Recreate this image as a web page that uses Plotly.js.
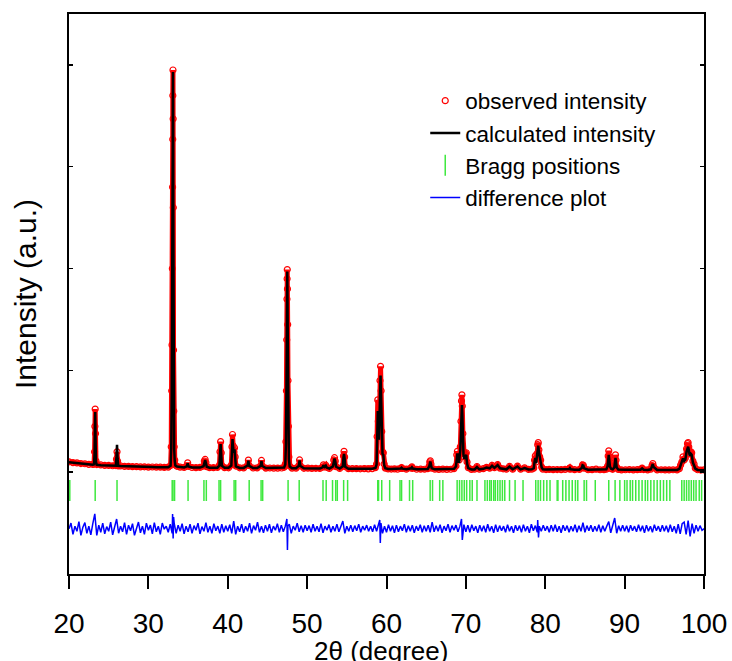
<!DOCTYPE html>
<html>
<head>
<meta charset="utf-8">
<script src="https://cdn.plot.ly/plotly-3.0.1.min.js"></script>
<style>html,body{margin:0;padding:0;background:#fff;}#chart{width:732px;height:661px;}</style>
</head>
<body>
<div id="chart"></div>
<script>
// ---- 2θ positions of the observed / calculated profile (degrees) ----
const twoTheta = [
  20, 20.5, 21, 21.5, 22, 22.5, 23.0,
  23.15, 23.22, 23.26, 23.3, 23.34, 23.4, 23.5,
  24, 24.5, 25, 25.5,
  25.9, 25.98, 26.05, 26.12, 26.2,
  26.5, 27, 27.5, 28, 28.5, 29, 29.5, 30, 30.5, 31, 31.5, 32, 32.5,
  32.8, 32.88, 32.94, 32.98, 33.02, 33.05, 33.07, 33.08, 33.1, 33.12, 33.14, 33.17, 33.2, 33.25, 33.32, 33.4,
  33.6, 34.0, 34.5,
  34.85, 34.95, 35.05,
  35.5, 36.0, 36.5,
  36.95, 37.05, 37.15, 37.25, 37.35,
  37.7, 38.2, 38.7,
  38.95, 39.02, 39.1, 39.18, 39.26,
  39.6, 40.1,
  40.45, 40.53, 40.6, 40.68, 40.76, 40.85, 40.93, 41.02,
  41.5, 42.0,
  42.5, 42.6, 42.7,
  43.2, 43.7,
  44.15, 44.25, 44.35,
  44.8, 45.3, 45.8, 46.3, 46.8, 47.1,
  47.25, 47.33, 47.39, 47.43, 47.46, 47.48, 47.5, 47.52, 47.55, 47.59, 47.64, 47.7, 47.8,
  48.1, 48.6,
  48.95, 49.05, 49.15,
  49.6, 50.1, 50.6, 51.1, 51.6,
  51.95, 52.05, 52.2, 52.35, 52.45,
  52.8,
  53.25, 53.35, 53.45, 53.55, 53.65,
  54.1,
  54.5, 54.58, 54.65, 54.72, 54.8,
  55.2, 55.7, 56.2, 56.7, 57.2, 57.7, 58.2, 58.6,
  58.75, 58.82, 58.9, 58.97, 59.05, 59.12, 59.18, 59.25, 59.32, 59.4, 59.5, 59.6, 59.7, 59.85,
  60.2, 60.6, 61.0, 61.4,
  61.8, 61.9, 62.0,
  62.5,
  63.1, 63.2, 63.3,
  63.8, 64.3, 64.8, 65.2,
  65.38, 65.45, 65.52, 65.6, 65.7,
  66.1, 66.6, 67.1, 67.6, 68.1, 68.5,
  68.75, 68.85, 68.93, 69.02, 69.15, 69.3, 69.38, 69.45, 69.5, 69.55, 69.62, 69.7, 69.8, 69.95, 70.05, 70.15, 70.3,
  70.7, 71.1,
  71.4, 71.7, 72.2, 72.6, 73.0, 73.3, 73.6, 74.0, 74.3, 74.7, 75.1, 75.5, 75.9, 76.5, 76.9, 77.4, 77.9, 78.3,
  78.55, 78.65, 78.75, 78.85, 78.95, 79.05, 79.12, 79.2, 79.3, 79.42, 79.55, 79.7,
  80.1, 80.5, 81.0, 81.5, 82.0, 82.5,
  83.0, 83.1, 83.2,
  83.7, 84.3,
  84.6, 84.7, 84.8, 84.9,
  85.4, 85.9, 86.4, 86.9, 87.4, 87.7,
  87.85, 87.93, 88.0, 88.07, 88.15, 88.3, 88.5,
  88.7, 88.78, 88.85, 88.92, 89.0, 89.2,
  89.6, 90.1, 90.6, 91.1, 91.6, 92.0,
  92.2, 92.4,
  92.9, 93.3,
  93.45, 93.55, 93.65,
  94.1, 94.6, 95.1, 95.6, 96.1, 96.6, 96.9,
  97.05, 97.2, 97.35, 97.5, 97.65, 97.8, 97.92, 98.0, 98.08, 98.2, 98.35, 98.45, 98.6, 98.75, 98.9,
  99.2, 99.6, 100
];

// ---- observed intensity (a.u.) ----
const observedIntensity = [
  1102, 1094, 1091, 1085, 1083, 1077, 1076,
  1080, 1200, 1450, 1620, 1380, 1110, 1075,
  1071, 1067, 1066, 1063,
  1065, 1130, 1200, 1110, 1062,
  1061, 1057, 1057, 1054, 1055, 1052, 1053, 1050, 1051, 1049, 1049, 1047, 1050,
  1065, 1250, 1800, 2250, 3000, 3800, 4270, 4700, 4950, 4470, 3600, 2200, 1600, 1250, 1120, 1070,
  1058, 1050, 1047,
  1060, 1092, 1058,
  1046, 1045, 1047,
  1060, 1110, 1125, 1095, 1055,
  1045, 1044, 1046,
  1070, 1200, 1300, 1190, 1065,
  1045, 1043,
  1070, 1250, 1370, 1260, 1200, 1240, 1150, 1060,
  1043, 1042,
  1070, 1118, 1065,
  1041, 1042,
  1065, 1115, 1062,
  1040, 1041, 1039, 1040, 1041, 1048,
  1080, 1300, 1800, 2300, 2700, 2900, 2990, 2800, 2450, 1900, 1450, 1150, 1060,
  1040, 1039,
  1065, 1120, 1062,
  1038, 1039, 1037, 1038, 1036,
  1050, 1072, 1055, 1068, 1048,
  1036,
  1060, 1120, 1142, 1110, 1055,
  1036,
  1060, 1160, 1205, 1150, 1055,
  1035, 1034, 1035, 1033, 1034, 1032, 1034, 1045,
  1080, 1350, 1710, 1500, 1350, 1600, 1900, 2040, 1800, 1400, 1200, 1190, 1080, 1040,
  1032, 1031, 1032, 1030,
  1038, 1046, 1036,
  1030,
  1040, 1052, 1038,
  1029, 1030, 1029, 1034,
  1060, 1100, 1112, 1080, 1040,
  1029, 1028, 1030, 1028, 1029, 1035,
  1060, 1170, 1205, 1130, 1120, 1250, 1500, 1700, 1760, 1650, 1380, 1200, 1150, 1180, 1190, 1100, 1045,
  1028, 1030,
  1055, 1030, 1035, 1048, 1040, 1068, 1045, 1075, 1040, 1033, 1030, 1058, 1030, 1060, 1030, 1042, 1027, 1030,
  1040, 1120, 1160, 1100, 1180, 1270, 1290, 1220, 1150, 1120, 1050, 1030,
  1026, 1027, 1025, 1026, 1025, 1027,
  1032, 1043, 1030,
  1025, 1027,
  1045, 1072, 1068, 1040,
  1024, 1025, 1030, 1024, 1025, 1030,
  1060, 1160, 1210, 1150, 1060, 1035, 1030,
  1050, 1130, 1170, 1120, 1050, 1028,
  1023, 1024, 1026, 1023, 1025, 1027,
  1040, 1026,
  1023, 1030,
  1065, 1085, 1055,
  1022, 1024, 1023, 1022, 1024, 1023, 1035,
  1070, 1100, 1150, 1120, 1140, 1230, 1280, 1290, 1250, 1180, 1200, 1190, 1110, 1080, 1040,
  1024, 1021, 1022
];

// ---- calculated intensity (a.u.) ----
const calculatedIntensity = [
  1098, 1093, 1088, 1084, 1080, 1077, 1074,
  1078, 1180, 1420, 1590, 1360, 1100, 1073,
  1069, 1067, 1065, 1063,
  1063, 1150, 1270, 1130, 1062,
  1060, 1058, 1056, 1055, 1054, 1053, 1052, 1051, 1050, 1049, 1048, 1048, 1049,
  1062, 1230, 1750, 2200, 2950, 3750, 4250, 4650, 4930, 4450, 3550, 2150, 1550, 1230, 1110, 1066,
  1055, 1049, 1046,
  1058, 1088, 1056,
  1046, 1045, 1045,
  1058, 1105, 1120, 1090, 1053,
  1044, 1044, 1044,
  1066, 1180, 1275, 1170, 1062,
  1044, 1043,
  1065, 1230, 1325, 1240, 1190, 1225, 1140, 1058,
  1042, 1042,
  1066, 1112, 1062,
  1041, 1041,
  1062, 1110, 1060,
  1040, 1040, 1039, 1039, 1040, 1046,
  1075, 1280, 1760, 2260, 2680, 2880, 2970, 2780, 2420, 1870, 1420, 1130, 1056,
  1039, 1038,
  1062, 1115, 1060,
  1038, 1038, 1037, 1037, 1036,
  1048, 1068, 1052, 1064, 1046,
  1035,
  1057, 1115, 1135, 1105, 1053,
  1035,
  1057, 1145, 1180, 1135, 1053,
  1034, 1034, 1034, 1033, 1033, 1032, 1033, 1042,
  1075, 1300, 1600, 1450, 1320, 1550, 1820, 1950, 1740, 1370, 1180, 1170, 1070, 1038,
  1031, 1031, 1031, 1030,
  1036, 1043, 1035,
  1030,
  1038, 1048, 1036,
  1029, 1029, 1029, 1032,
  1056, 1095, 1105, 1075, 1038,
  1028, 1028, 1028, 1028, 1028, 1033,
  1055, 1150, 1185, 1110, 1105, 1220, 1430, 1620, 1660, 1580, 1330, 1170, 1130, 1160, 1170, 1085, 1040,
  1027, 1027,
  1050, 1028, 1033, 1045, 1038, 1063, 1042, 1070, 1038, 1031, 1028, 1054, 1028, 1056, 1028, 1040, 1026, 1028,
  1038, 1100, 1140, 1090, 1160, 1240, 1260, 1200, 1130, 1100, 1046, 1028,
  1026, 1026, 1025, 1025, 1025, 1025,
  1031, 1040, 1029,
  1024, 1025,
  1042, 1068, 1064, 1038,
  1024, 1024, 1028, 1024, 1024, 1028,
  1056, 1130, 1170, 1120, 1055, 1033, 1028,
  1047, 1110, 1140, 1100, 1046, 1026,
  1023, 1023, 1024, 1023, 1023, 1025,
  1037, 1024,
  1022, 1028,
  1060, 1080, 1050,
  1022, 1022, 1022, 1022, 1022, 1022, 1032,
  1065, 1090, 1135, 1110, 1125, 1200, 1245, 1250, 1220, 1160, 1180, 1170, 1095, 1068, 1036,
  1022, 1021, 1020
];

// ---- Bragg reflection positions (degrees) and their row level ----
const braggPositions = [
  20.1, 23.3, 26.05, 33.0, 33.1, 33.3, 35.0, 37.0, 37.3, 38.9, 39.1, 40.8, 41.0, 42.7, 44.2, 44.4,
  47.6, 49.0, 52.0, 52.4, 53.2, 53.6, 53.8, 54.6, 55.1, 58.9, 59.0, 59.4, 60.4, 61.7, 61.9, 62.9, 63.3,
  65.5, 65.8, 66.7, 67.1, 68.9, 69.2, 69.5, 69.8, 70.1, 70.5, 70.8, 71.4,
  72.4, 72.7, 73.0, 73.2, 73.5, 73.7, 74.0, 74.3, 74.6, 74.9, 75.5, 76.2, 77.2,
  78.8, 79.1, 79.4, 79.8, 80.2, 80.6, 81.5, 81.6, 82.2, 82.6, 83.0, 83.4, 83.8, 84.1, 84.9, 85.2, 86.3,
  88.0, 88.8, 89.4, 90.0, 90.3, 90.7, 91.0, 91.4, 91.8, 92.2, 92.6, 92.9, 93.3, 93.7, 94.1, 94.5, 94.9,
  95.3, 95.7, 97.2, 97.5, 97.8, 98.1, 98.4, 98.7, 99.0, 99.4, 99.7
];
const braggLevel = 820;

// ---- difference plot: regular 0.25° scan grid + extra points at strong reflections ----
const diffStart = 20, diffStep = 0.25;
const differenceValues = [
  445, 500, 390, 470, 420, 515, 380, 460, 505, 400, 470, 385, 495, 590, 380, 480, 410, 500, 395, 465,
  420, 510, 385, 475, 540, 400, 470, 415, 505, 390, 480, 425, 495, 380, 460, 510, 405, 470, 390, 500,
  430, 480, 395, 505, 415, 470, 390, 500, 440, 470, 410, 490, 400, 500, 400, 480, 420, 495, 395, 470,
  415, 490, 400, 475, 430, 500, 395, 465, 420, 505, 410, 470, 400, 495, 425, 470, 400, 490, 410, 475,
  420, 485, 400, 520, 390, 470, 415, 490, 405, 470, 420, 500, 400, 475, 430, 510, 410, 470, 405, 480,
  420, 490, 405, 470, 430, 495, 410, 480, 415, 470, 410, 490, 400, 470, 430, 500, 415, 475, 410, 480,
  425, 475, 410, 490, 420, 470, 415, 495, 405, 470, 430, 485, 410, 470, 420, 490, 415, 470, 520, 400,
  470, 420, 480, 415, 475, 425, 490, 410, 470, 430, 480, 420, 470, 415, 485, 420, 475, 430, 400, 470,
  410, 485, 420, 475, 405, 480, 415, 470, 425, 490, 410, 475, 420, 480, 405, 470, 425, 485, 410, 475,
  420, 480, 410, 510, 415, 475, 420, 485, 405, 470, 425, 490, 410, 475, 430, 480, 415, 470, 410, 485,
  415, 480, 410, 485, 425, 470, 405, 480, 420, 475, 410, 490, 420, 470, 405, 485, 415, 475, 425, 470,
  410, 485, 420, 470, 405, 480, 425, 475, 410, 485, 420, 470, 405, 490, 425, 475, 410, 470, 420, 480,
  425, 470, 410, 480, 420, 485, 415, 470, 405, 480, 425, 475, 410, 470, 420, 485, 410, 475, 420, 505,
  410, 475, 425, 480, 415, 470, 420, 485, 410, 475, 420, 470, 515, 405, 480, 550, 400, 475, 420, 480,
  420, 475, 410, 480, 425, 470, 415, 485, 420, 475, 405, 480, 420, 470, 410, 485, 425, 470, 415, 480,
  420, 475, 410, 485, 415, 470, 400, 490, 395, 495, 510, 390, 525, 370, 495, 400, 480, 420, 475, 430,
  445
];
const diffSpikeTheta = [33.05, 33.12, 33.18, 47.45, 47.52, 47.58, 59.15, 59.22, 59.3, 69.45, 69.55, 79.05, 79.15];
const diffSpikeValues = [590, 350, 560, 540, 236, 470, 530, 305, 500, 540, 334, 530, 360];

// ---- axis ticks and titles ----
const xTickVals = [20, 30, 40, 50, 60, 70, 80, 90, 100];
const yTickVals = [0, 1000, 2000, 3000, 4000, 5000];
const xTitle = '2θ (degree)';
const yTitle = 'Intensity (a.u.)';

// assemble the difference curve (sorted by 2θ)
const diffPts = differenceValues.map((v, i) => [diffStart + i * diffStep, v])
  .concat(diffSpikeTheta.map((t, i) => [t, diffSpikeValues[i]]))
  .sort((a, b) => a[0] - b[0]);
const diffX = diffPts.map(p => p[0]);
const diffY = diffPts.map(p => p[1]);

const FONT = 'Liberation Sans, Arial, sans-serif';

const traces = [
  { // red band behind the open circles (not in legend)
    x: twoTheta, y: observedIntensity, type: 'scatter', mode: 'lines',
    line: { color: '#ff0000', width: 5 }, showlegend: false, hoverinfo: 'skip'
  },
  {
    x: twoTheta, y: observedIntensity, type: 'scatter', mode: 'markers',
    name: 'observed intensity',
    marker: { symbol: 'circle-open', size: 6, color: '#ff0000', line: { width: 1.2, color: '#ff0000' } }
  },
  {
    x: twoTheta, y: calculatedIntensity, type: 'scatter', mode: 'lines',
    name: 'calculated intensity', line: { color: '#000000', width: 2.5 }
  },
  {
    x: braggPositions, y: braggPositions.map(() => braggLevel), type: 'scatter', mode: 'markers',
    name: 'Bragg positions',
    marker: { symbol: 'line-ns-open', size: 15, color: '#3ee83e', line: { width: 1.5, color: '#3ee83e' } }
  },
  {
    x: diffX, y: diffY, type: 'scatter', mode: 'lines',
    name: 'difference plot', line: { color: '#0000ff', width: 1.5 }
  }
];

const layout = {
  width: 732, height: 661,
  margin: { l: 69, r: 28, t: 14, b: 87 },
  paper_bgcolor: '#ffffff', plot_bgcolor: '#ffffff',
  font: { family: FONT, color: '#000000' },
  showlegend: true,
  legend: {
    x: 0.561, y: 0.883, xanchor: 'left', yanchor: 'top',
    font: { family: FONT, size: 22.5, color: '#000000' },
    bgcolor: 'rgba(0,0,0,0)', tracegroupgap: 0
  },
  xaxis: {
    range: [20, 100], tickvals: xTickVals, ticktext: xTickVals.map(String),
    ticks: 'outside', ticklen: 13, tickwidth: 2, tickcolor: '#000',
    ticklabelstandoff: 10,
    showline: true, linewidth: 2, linecolor: '#000', mirror: true,
    showgrid: false, zeroline: false,
    tickfont: { family: FONT, size: 28, color: '#000' }
  },
  yaxis: {
    range: [0, 5500], tickvals: yTickVals,
    ticks: 'inside', ticklen: 4, tickwidth: 1.5, tickcolor: '#000',
    showticklabels: false,
    showline: true, linewidth: 2, linecolor: '#000', mirror: 'ticks',
    showgrid: false, zeroline: false,
    title: { text: yTitle, font: { family: FONT, size: 30, color: '#000' }, standoff: 22 }
  },
  annotations: [{
    text: xTitle, xref: 'paper', yref: 'paper', x: 0.4906, y: -0.1375,
    xanchor: 'center', yanchor: 'middle', showarrow: false,
    font: { family: FONT, size: 26, color: '#000' }
  }]
};

Plotly.newPlot('chart', traces, layout, { displayModeBar: false, staticPlot: true });
</script>
</body>
</html>
